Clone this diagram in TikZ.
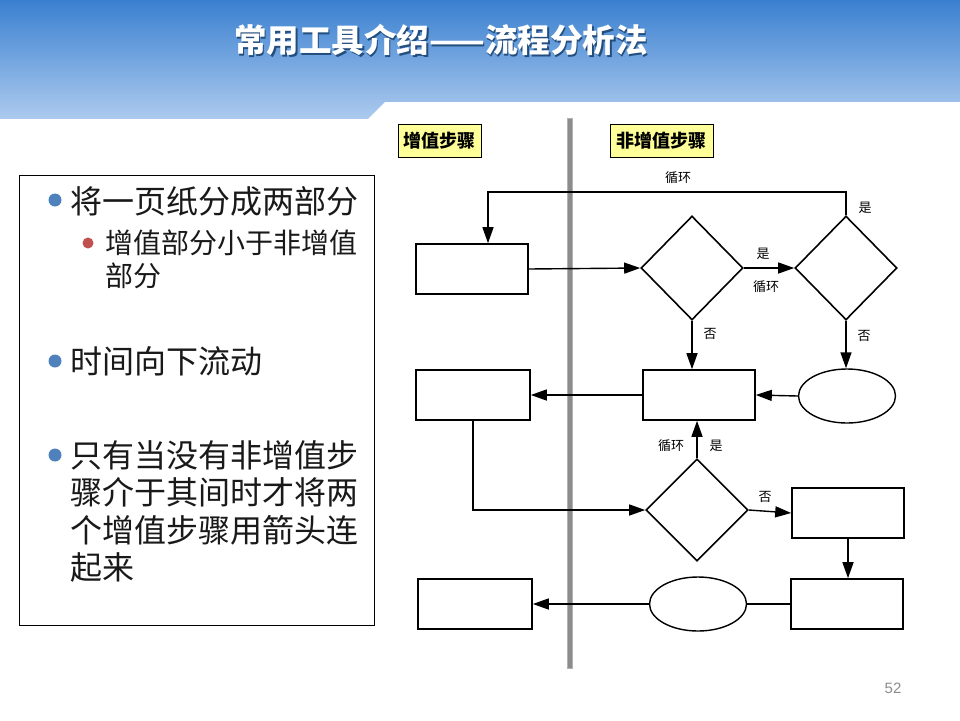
\documentclass[tikz,border=0pt]{standalone}
\usepackage{fontspec}
\setmainfont{Liberation Sans}
\newfontfamily\cjk{Noto Sans CJK SC}
\usetikzlibrary{shapes.geometric,arrows.meta,calc}
\definecolor{hdtop}{RGB}{58,128,208}
\definecolor{hdbot}{RGB}{172,202,238}
\definecolor{tagyel}{RGB}{255,255,153}
\definecolor{dotblue}{RGB}{79,129,189}
\definecolor{dotred}{RGB}{192,80,77}
\definecolor{pgray}{RGB}{140,140,140}
\begin{document}
\begin{tikzpicture}[x=1pt,y=-1pt,
  procbox/.style={draw, line width=1.6pt, rectangle, minimum width=112pt, minimum height=50pt, inner sep=0},
  decbox/.style={draw, line width=1.6pt, diamond, minimum width=102pt, minimum height=104pt, inner sep=0},
  ovalbox/.style={draw, line width=1.4pt, ellipse, minimum width=97pt, minimum height=54pt, inner sep=0},
  tagbox/.style={draw, line width=1pt, fill=tagyel, minimum height=33pt, inner sep=0, font=\cjk\bfseries\fontsize{18}{18}\selectfont},
  arr/.style={line width=1.4pt, -{Triangle[length=16pt,width=11pt]}},
  plain/.style={line width=1.4pt},
  lbl/.style={font=\cjk\fontsize{13}{13}\selectfont, inner sep=0},
  bigtxt/.style={font=\cjk\fontsize{32}{32}\selectfont, anchor=west, inner sep=0, text=black!90},
  subtxt/.style={font=\cjk\fontsize{28}{28}\selectfont, anchor=west, inner sep=0, text=black!90},
]
\useasboundingbox (0,0) rectangle (960,720);
\fill[white] (0,0) rectangle (960,720);
% header
\shade[top color=hdtop, bottom color=hdbot] (0,0) rectangle (960,118);
\fill[white] (368,119) -- (385,102) -- (960,102) -- (960,119) -- cycle;
\node[font=\cjk\bfseries\fontsize{32.5}{32.5}\selectfont, text=black!40!hdtop, inner sep=0] at (442.5,41.5) {常用工具介绍——流程分析法};
\node[font=\cjk\bfseries\fontsize{32.5}{32.5}\selectfont, text=white, inner sep=0] (title) at (441,40) {常用工具介绍——流程分析法};

% left text box
\node[draw, line width=0.8pt, minimum width=355pt, minimum height=450pt, inner sep=0] (lbox) at (196.5,400) {};
\fill[dotblue] (55,200) circle (6.5);
\node[bigtxt] (b1) at (70,201) {将一页纸分成两部分};
\fill[dotred] (88,243) circle (5.5);
\node[subtxt] (s1a) at (105,243) {增值部分小于非增值};
\node[subtxt] (s1b) at (105,276) {部分};
\fill[dotblue] (55,361) circle (6.5);
\node[bigtxt] (b2) at (70,361) {时间向下流动};
\fill[dotblue] (55,455) circle (6.5);
\node[bigtxt] (b3a) at (70,455) {只有当没有非增值步};
\node[bigtxt] (b3b) at (70,492) {骤介于其间时才将两};
\node[bigtxt] (b3c) at (70,530) {个增值步骤用箭头连};
\node[bigtxt] (b3d) at (70,567) {起来};

% separator
\fill[black!45] (567,118) rectangle (572,668);
\draw[black!30, line width=0.5pt] (567,118) rectangle (572,668);

% tags
\node[tagbox, minimum width=83pt] (t1) at (439.5,140.5) {增值步骤};
\node[tagbox, minimum width=103pt] (t2) at (661.5,140.5) {非增值步骤};

% shapes
\node[procbox] (R1) at (472,269) {};
\node[decbox] (D1) at (692,268) {};
\node[decbox] (D2) at (846,268) {};
\node[procbox] (R2) at (699,395) {};
\node[ovalbox] (E1) at (847,396) {};
\node[procbox, minimum width=114pt] (R3) at (473,395) {};
\node[decbox, minimum height=102pt] (D3) at (697,510) {};
\node[procbox] (R4) at (848,513) {};
\node[procbox] (R5) at (847,604) {};
\node[ovalbox] (E2) at (698,604) {};
\node[procbox, minimum width=114pt] (R6) at (475,604) {};

% connectors
\coordinate (lp) at (488,192);
\draw[arr] (D2.north) |- (lp) -- (lp |- R1.north);
\draw[arr] (R1.east) -- (D1.west);
\draw[arr] (D1.east) -- (D2.west);
\draw[arr] (D1.south) -- (D1.south |- R2.north);
\draw[arr] (D2.south) -- (D2.south |- E1.north);
\draw[arr] (E1.west) -- (R2.east);
\draw[arr] (R2.west) -- (R3.east);
\draw[arr] (R3.south) |- (D3.west);
\draw[arr] (D3.north) -- (D3.north |- R2.south);
\draw[arr] (D3.east) -- (R4.west);
\draw[arr] (R4.south) -- (R4.south |- R5.north);
\draw[plain] (R5.west) -- (E2.east);
\draw[arr] (E2.west) -- (R6.east);

% labels
\node[lbl] (l1) at (678,178) {循环};
\node[lbl] (l2) at (865,208) {是};
\node[lbl] (l3) at (763,254) {是};
\node[lbl] (l4) at (766,287) {循环};
\node[lbl] (l5) at (710,334) {否};
\node[lbl] (l6) at (864,336) {否};
\node[lbl] (l7) at (671,446) {循环};
\node[lbl] (l8) at (716,446) {是};
\node[lbl] (l9) at (765,497) {否};

\node[font=\fontsize{15}{15}\selectfont, text=pgray, inner sep=0] (pg) at (893,688) {52};
\end{tikzpicture}
\end{document}
